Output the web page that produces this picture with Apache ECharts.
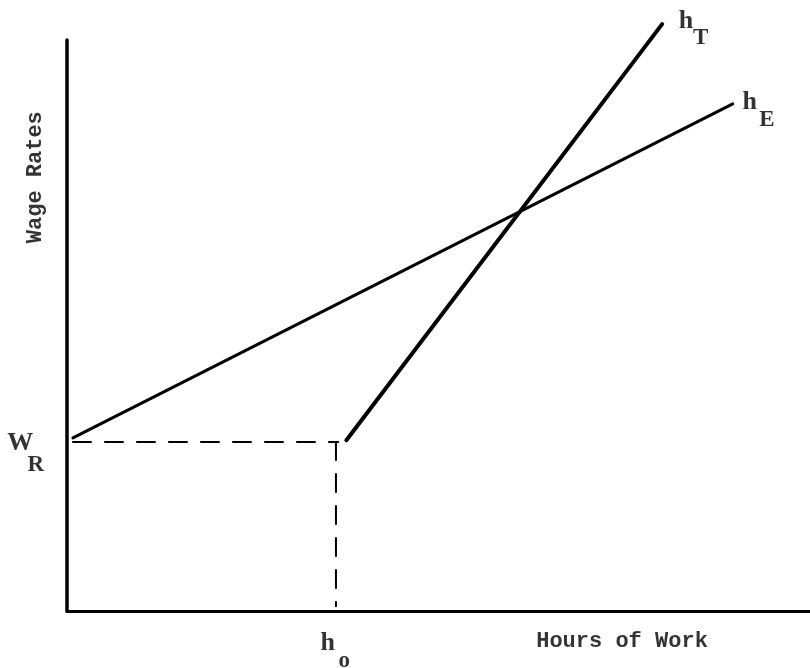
<!DOCTYPE html>
<html>
<head>
<meta charset="utf-8">
<script src="https://cdn.jsdelivr.net/npm/echarts@6/dist/echarts.min.js"></script>
<style>
  html, body { margin: 0; padding: 0; background: #fff; }
  #container { width: 810px; height: 668px; }
</style>
</head>
<body>
<div id="container"></div>
<script>
// schedule lines (arbitrary units 0..100)
var hE = [[0.8, 29.3], [89.6, 85.8]];
var hT = [[37.6, 28.9], [80.1, 99.3]];
var wageLine = [[0.8, 28.6], [36.5, 28.6]];
var hoursLine = [[36.2, 28.6], [36.2, 0.8]];
var yAxisLine = [[0, 0], [0, 96.6]];

// annotation letters: [text, x, y]
var mainLetters = [['W', -6.3, 28.3], ['h', 35.1, -5.4], ['h', 83.3, 99.7], ['h', 91.9, 86.1]];
var subLetters = [['R', -4.2, 24.7], ['o', 37.3, -8.5], ['T', 85.3, 97.0], ['E', 94.2, 83.1]];
var axisTitles = [['Hours of Work', 74.7, -5.2, 0], ['Wage Rates', -4.3, 73.4, 90]];

var dom = document.getElementById('container');
var myChart = echarts.init(dom);

function lineSeries(data, width, dashed) {
    return {
        type: 'line',
        data: data,
        symbol: 'none',
        clip: false,
        silent: true,
        lineStyle: {
            color: '#000',
            width: width,
            type: dashed ? [18, 14] : 'solid',
            cap: 'round'
        }
    };
}

function letterSeries(list, size) {
    return {
        type: 'scatter',
        symbolSize: 0,
        clip: false,
        silent: true,
        data: list.map(function (d) { return { value: [d[1], d[2]], name: d[0] }; }),
        label: {
            show: true,
            position: 'inside',
            formatter: '{b}',
            color: '#000',
            fontFamily: 'Liberation Serif',
            fontWeight: 'bold',
            fontSize: size
        }
    };
}

var option = {
    animation: false,
    backgroundColor: '#fff',
    grid: { left: 67, right: 0, top: 20, bottom: 57 },
    xAxis: {
        type: 'value', min: 0, max: 100,
        axisLine: { show: true, lineStyle: { color: '#000', width: 3 } },
        axisTick: { show: false }, axisLabel: { show: false }, splitLine: { show: false }
    },
    yAxis: {
        type: 'value', min: 0, max: 100,
        axisLine: { show: false },
        axisTick: { show: false }, axisLabel: { show: false }, splitLine: { show: false }
    },
    series: [
        lineSeries(yAxisLine, 3.5, false),
        lineSeries(hE, 3, false),
        lineSeries(hT, 4, false),
        lineSeries(wageLine, 2, true),
        lineSeries(hoursLine, 2, true),
        letterSeries(mainLetters, 26),
        letterSeries(subLetters, 23),
        {
            type: 'scatter',
            symbolSize: 0,
            clip: false,
            silent: true,
            data: axisTitles.map(function (d) { return { value: [d[1], d[2]], name: d[0], label: { rotate: d[3] } }; }),
            label: {
                show: true,
                position: 'inside',
                formatter: '{b}',
                color: '#000',
                fontFamily: 'Liberation Mono',
                fontWeight: 'bold',
                fontSize: 22
            }
        }
    ]
};

myChart.setOption(option, true);
</script>
</body>
</html>
